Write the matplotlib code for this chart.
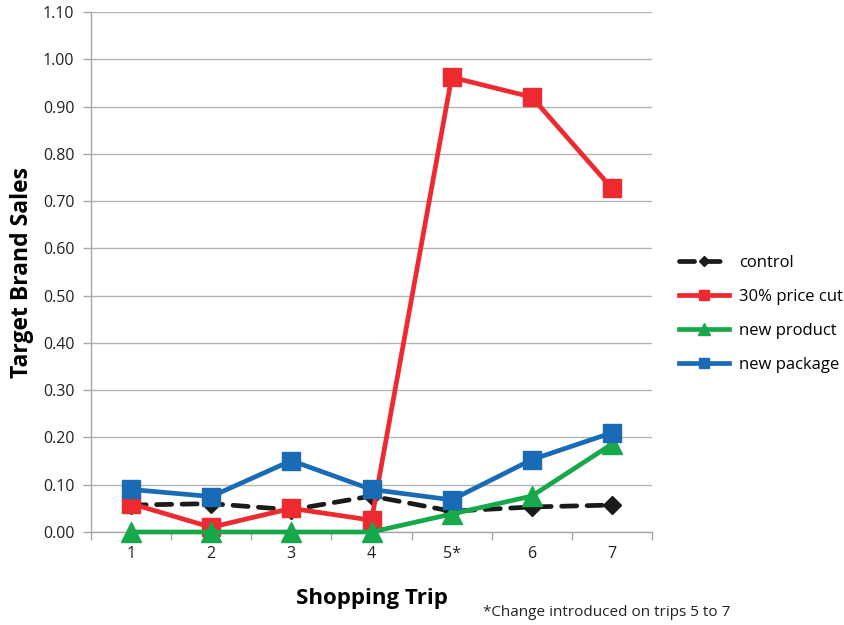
import matplotlib
matplotlib.use("Agg")
import matplotlib.pyplot as plt
from matplotlib.ticker import FixedLocator, FormatStrFormatter

plt.rcParams['font.family'] = ['Open Sans', 'DejaVu Sans']

trips = [1, 2, 3, 4, 5, 6, 7]
trip_labels = ["1", "2", "3", "4", "5*", "6", "7"]
control = [0.057, 0.060, 0.047, 0.076, 0.044, 0.053, 0.057]
price_cut = [0.060, 0.010, 0.050, 0.025, 0.962, 0.920, 0.727]
new_product = [0.0, 0.0, 0.0, 0.0, 0.038, 0.076, 0.186]
new_package = [0.090, 0.075, 0.151, 0.090, 0.068, 0.153, 0.210]

fig = plt.figure(figsize=(8.45, 6.25), dpi=100)
ax = fig.add_axes([91/845, 1-532/625, (652-91)/845, (532-12)/625])

lw = 3.4
ax.plot(trips, control, color='#1a1a1a', lw=lw, dashes=(3.2, 2.2), marker='D', ms=9,
        label='control', zorder=3, solid_capstyle='round', dash_capstyle='round', clip_on=False)
ax.plot(trips, price_cut, color='#ec2a2f', lw=lw, marker='s', ms=12.5, label='30% price cut',
        zorder=4, clip_on=False)
ax.plot(trips, new_product, color='#17a84b', lw=lw, marker='^', ms=14, label='new product',
        zorder=5, clip_on=False)
ax.plot(trips, new_package, color='#1a6bb5', lw=lw, marker='s', ms=12.5, label='new package',
        zorder=6, clip_on=False)

ax.set_xlim(0.5, 7.5)
ax.set_ylim(0, 1.10)
ax.set_yticks([i/10 for i in range(12)])
ax.yaxis.set_major_formatter(FormatStrFormatter('%.2f'))
ax.set_xticks(trips)
ax.set_xticklabels(trip_labels)
ax.xaxis.set_minor_locator(FixedLocator([0.5 + i for i in range(8)]))
ax.tick_params(axis='x', which='major', length=0, pad=10, labelsize=11.5, colors='#222222')
ax.tick_params(axis='x', which='minor', length=6, color='#a6a6a6', width=1)
ax.tick_params(axis='y', length=6, color='#a6a6a6', width=1, labelsize=11.5, colors='#222222', pad=6)
ax.grid(axis='y', color='#b3b3b3', lw=1)
ax.set_axisbelow(True)
for s in ['top', 'right']:
    ax.spines[s].set_visible(False)
for s in ['left', 'bottom']:
    ax.spines[s].set_color('#a6a6a6')
    ax.spines[s].set_linewidth(1)

ax.set_ylabel('Target Brand Sales', fontsize=16.5, fontweight='bold', labelpad=6)
ax.set_xlabel('Shopping Trip', fontsize=16, fontweight='bold', labelpad=19)

ax.legend(loc='center left', bbox_to_anchor=(664/845, 1-314/625), bbox_transform=fig.transFigure,
          frameon=False, fontsize=12, handlelength=3.0, labelspacing=1.07, markerscale=0.6,
          handletextpad=0.6)

fig.text(483/845, 1-612/625, '*Change introduced on trips 5 to 7', fontsize=11, color='#222222', va='center')

fig.savefig('out.png', dpi=100)
